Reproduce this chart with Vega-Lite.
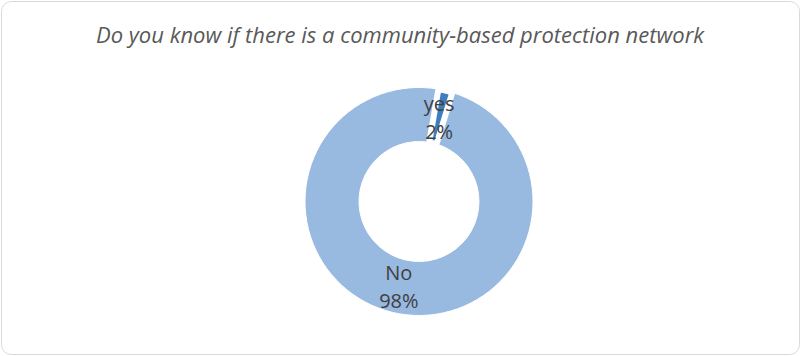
{
  "$schema": "https://vega.github.io/schema/vega-lite/v6.json",
  "autosize": {"type": "fit", "contains": "padding"},
  "width": 800,
  "height": 356,
  "padding": {"left": 1, "top": 1, "right": 1, "bottom": 2},
  "background": "white",
  "view": {"stroke": "#D9D9D9", "strokeWidth": 1, "cornerRadius": 10, "fill": "white"},
  "title": {
    "text": "Do you know if there is a community-based protection network",
    "font": "Open Sans",
    "fontSize": 22,
    "fontStyle": "italic",
    "fontWeight": "normal",
    "color": "#595959",
    "anchor": "middle",
    "frame": "group",
    "baseline": "alphabetic",
    "offset": -64
  },
  "data": {
    "values": [
      {"answer": "No", "value": 98, "order": 1, "label": "No\n98%"},
      {"answer": "yes", "value": 2, "order": 2, "label": "yes\n2%"}
    ]
  },
  "encoding": {
    "theta": {"field": "value", "type": "quantitative", "stack": true, "scale": {"range": [0.2967, 6.5799]}},
    "order": {"field": "order", "type": "quantitative"}
  },
  "layer": [
    {
      "mark": {"type": "arc", "outerRadius": 114, "innerRadius": 60, "stroke": "white", "xOffset": 19, "yOffset": 24},
      "encoding": {
        "color": {"field": "answer", "type": "nominal", "scale": {"domain": ["No", "yes"], "range": ["#98B9E0", "#3F7DC1"]}, "legend": null},
        "strokeWidth": {"condition": {"test": "datum.answer === 'yes'", "value": 6}, "value": 1}
      }
    },
    {
      "mark": {"type": "text", "radius": 87, "font": "Open Sans", "fontSize": 20, "color": "#404040", "lineBreak": "\n", "lineHeight": 28, "align": "center", "baseline": "middle", "xOffset": 19, "yOffset": 24, "dy": -12},
      "encoding": {
        "text": {"field": "label", "type": "nominal"}
      }
    }
  ]
}
